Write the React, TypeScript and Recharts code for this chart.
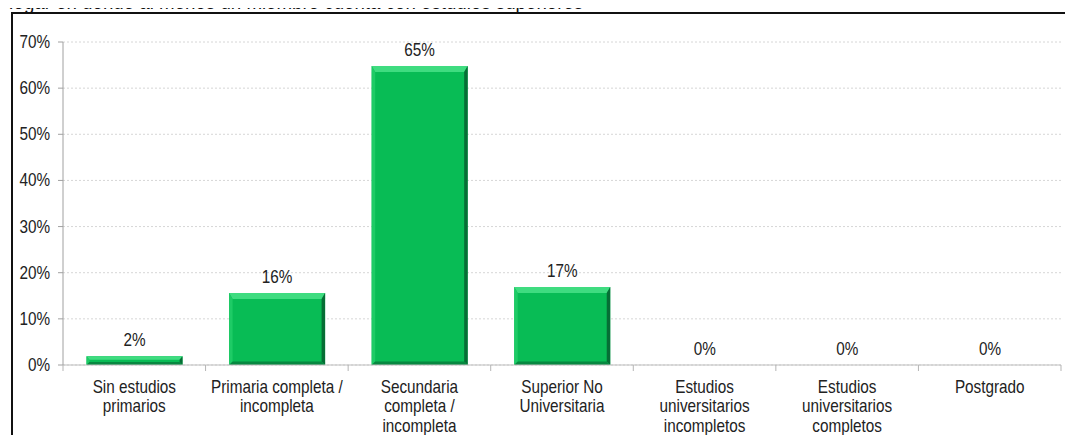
import React from "react";
import { BarChart, Bar, XAxis, YAxis, CartesianGrid, LabelList } from "recharts";

const categories = [
  "Sin estudios\nprimarios",
  "Primaria completa /\nincompleta",
  "Secundaria\ncompleta /\nincompleta",
  "Superior No\nUniversitaria",
  "Estudios\nuniversitarios\nincompletos",
  "Estudios\nuniversitarios\ncompletos",
  "Postgrado",
];
const shares = [1.9, 15.6, 64.8, 16.9, 0, 0, 0];
const yTicks = [0, 10, 20, 30, 40, 50, 60, 70];

const data = categories.map((name, i) => ({ name, value: shares[i] }));

const W = 1073;
const H = 443;
const margin = { top: 42, right: 12, left: 13, bottom: 0 };
const yAxisWidth = 50;
const band = (W - margin.left - margin.right - yAxisWidth) / categories.length;
const FONT = "'Liberation Sans', Arial, sans-serif";
const SQUEEZE = 0.85; // no narrow font available, squeeze the regular one

function Narrow({ x, y, anchor = "middle", children }: any) {
  return (
    <text
      transform={`translate(${x} ${y}) scale(${SQUEEZE} 1)`}
      textAnchor={anchor}
      fill="#222"
      fontSize={18}
      fontFamily={FONT}
    >
      {children}
    </text>
  );
}

// bevelled green bar like the old excel style
function BevelBar(props: any) {
  const { x, y, width, height } = props;
  if (!height || height <= 0) return null;
  const b = Math.min(6, height / 2.5);
  const s = Math.min(3.5, height / 3);
  return (
    <g>
      <rect x={x} y={y} width={width} height={height} fill="#08BC55" />
      <polygon points={`${x},${y} ${x + width},${y} ${x + width - s},${y + b} ${x + s},${y + b}`} fill="#3FDC80" />
      <polygon points={`${x},${y} ${x + s},${y + b} ${x + s},${y + height - s} ${x},${y + height}`} fill="#1ECB66" />
      <polygon points={`${x + width},${y} ${x + width},${y + height} ${x + width - s},${y + height - s} ${x + width - s},${y + b}`} fill="#066E35" />
      <polygon points={`${x},${y + height} ${x + width},${y + height} ${x + width - s},${y + height - s} ${x + s},${y + height - s}`} fill="#078840" />
    </g>
  );
}

function CatTick(props: any) {
  const { x, y, payload, index } = props;
  const lines = String(payload.value).split("\n");
  const left = x - band / 2;
  return (
    <g>
      <line x1={left} y1={y - 8} x2={left} y2={y - 2} stroke="#b5b5b5" />
      {index === categories.length - 1 && (
        <line x1={x + band / 2} y1={y - 8} x2={x + band / 2} y2={y - 2} stroke="#b5b5b5" />
      )}
      <Narrow x={x} y={y + 20}>
        {lines.map((l, i) => (
          <tspan key={i} x={0} dy={i === 0 ? 0 : 19.5}>{l}</tspan>
        ))}
      </Narrow>
    </g>
  );
}

function PctTick(props: any) {
  const { x, y, payload } = props;
  return (
    <Narrow x={x} y={y + 6} anchor="end">
      {`${payload.value}%`}
    </Narrow>
  );
}

function BarValue(props: any) {
  const { x, y, width, value } = props;
  return (
    <Narrow x={x + width / 2} y={y - 10}>
      {`${Math.round(value)}%`}
    </Narrow>
  );
}

export default function App() {
  return (
    <div style={{ position: "relative", width: W, height: H, margin: -8, overflow: "hidden", background: "#fff" }}>
      <div
        style={{
          position: "absolute",
          left: 0,
          top: -10,
          fontFamily: FONT,
          fontSize: 22,
          lineHeight: "24px",
          color: "#111",
          whiteSpace: "nowrap",
          transform: "scaleX(0.85)",
          transformOrigin: "left top",
        }}
      >
        Hogar en donde al menos un miembro cuenta con estudios superiores
      </div>
      <div
        style={{
          position: "absolute",
          left: 11,
          top: 12,
          width: W,
          height: H,
          borderLeft: "2px solid #111",
          borderTop: "2px solid #111",
          background: "#fff",
        }}
      />
      <div style={{ position: "absolute", left: 0, top: 0 }}>
        <BarChart width={W} height={H} data={data} margin={margin} barCategoryGap="16.5%">
          <CartesianGrid vertical={false} stroke="#d6d6d6" strokeDasharray="2 2" />
          <XAxis
            dataKey="name"
            interval={0}
            height={78}
            stroke="#bdbdbd"
            tickLine={false}
            tick={<CatTick />}
          />
          <YAxis
            width={yAxisWidth}
            domain={[0, 70]}
            ticks={yTicks}
            stroke="#a0a0a0"
            tickSize={5}
            tickMargin={8}
            tick={<PctTick />}
          />
          <Bar dataKey="value" isAnimationActive={false} shape={<BevelBar />}>
            <LabelList dataKey="value" content={<BarValue />} />
          </Bar>
        </BarChart>
      </div>
    </div>
  );
}
